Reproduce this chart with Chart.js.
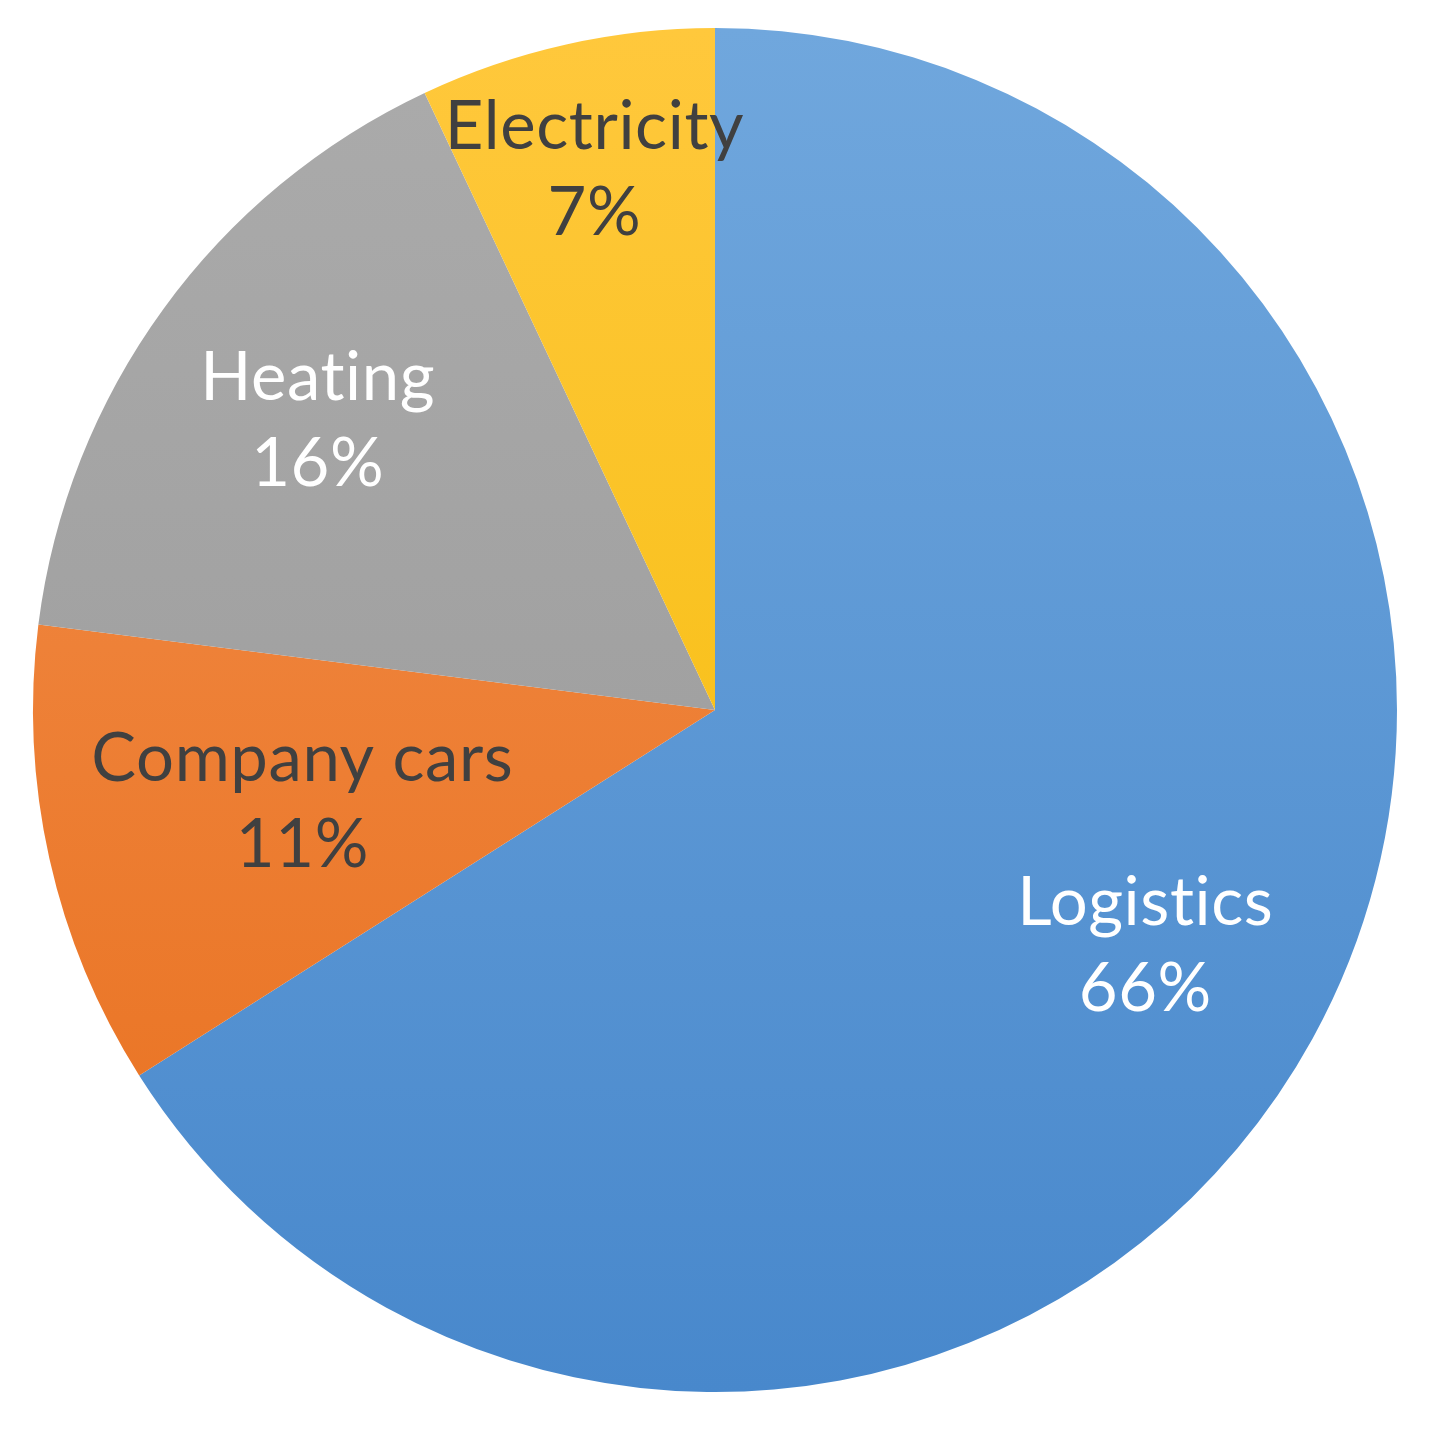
<!DOCTYPE html>
<html lang="en">
<head>
    <meta charset="UTF-8" />
    <title>Emissions by source</title>
    <script src="https://cdn.jsdelivr.net/npm/chart.js"></script>
    <style>
        html, body { margin: 0; padding: 0; background: #fff; }
        #wrap { width: 1440px; height: 1446px; }
    </style>
</head>
<body>
    <div id="wrap"><canvas id="pie-Grafik"></canvas></div>

    <script>
        // data
        const categories = ['Logistics', 'Company cars', 'Heating', 'Electricity'];
        const shares = [66, 11, 16, 7];

        // light (top) and dark (bottom) shade of each slice
        const topColors = ['#70a7dd', '#f3904f', '#ababab', '#ffc83c'];
        const bottomColors = ['#4888cc', '#e86f1c', '#979797', '#f3bb00'];
        const labelColors = ['#ffffff', '#404040', '#ffffff', '#404040'];
        // how far out along the radius each label sits
        const labelRadius = [0.72, 0.62, 0.72, 0.81];

        function sliceFill(ctx) {
            const chart = ctx.chart;
            const area = chart.chartArea;
            if (!area) return topColors[ctx.dataIndex];
            const g = chart.ctx.createLinearGradient(0, area.top, 0, area.bottom);
            g.addColorStop(0, topColors[ctx.dataIndex]);
            g.addColorStop(1, bottomColors[ctx.dataIndex]);
            return g;
        }

        const sliceLabels = {
            id: 'sliceLabels',
            afterDatasetsDraw(chart) {
                const c = chart.ctx;
                const meta = chart.getDatasetMeta(0);
                c.save();
                c.font = '67px Lato, "Open Sans", sans-serif';
                c.letterSpacing = '0.6px'; // also stops the "ti" ligature
                c.textAlign = 'center';
                c.textBaseline = 'middle';
                meta.data.forEach((arc, i) => {
                    const p = arc.getProps(['x', 'y', 'startAngle', 'endAngle', 'outerRadius'], true);
                    const mid = (p.startAngle + p.endAngle) / 2;
                    const r = p.outerRadius * labelRadius[i];
                    const x = p.x + Math.cos(mid) * r;
                    const y = p.y + Math.sin(mid) * r;
                    c.fillStyle = labelColors[i];
                    c.fillText(categories[i], x, y - 43);
                    c.fillText(shares[i] + '%', x, y + 43);
                });
                c.restore();
            }
        };

        const pieCtx = document.getElementById('pie-Grafik').getContext('2d');
        const pieGrafik = new Chart(pieCtx, {
            type: 'pie',
            data: {
                labels: categories,
                datasets: [{
                    data: shares,
                    backgroundColor: sliceFill,
                    borderWidth: 0
                }]
            },
            options: {
                responsive: true,
                maintainAspectRatio: false,
                animation: false,
                layout: { padding: { left: 33, right: 43, top: 28, bottom: 54 } },
                plugins: {
                    legend: { display: false },
                    tooltip: { enabled: false }
                }
            },
            plugins: [sliceLabels]
        });
    </script>
</body>
</html>
